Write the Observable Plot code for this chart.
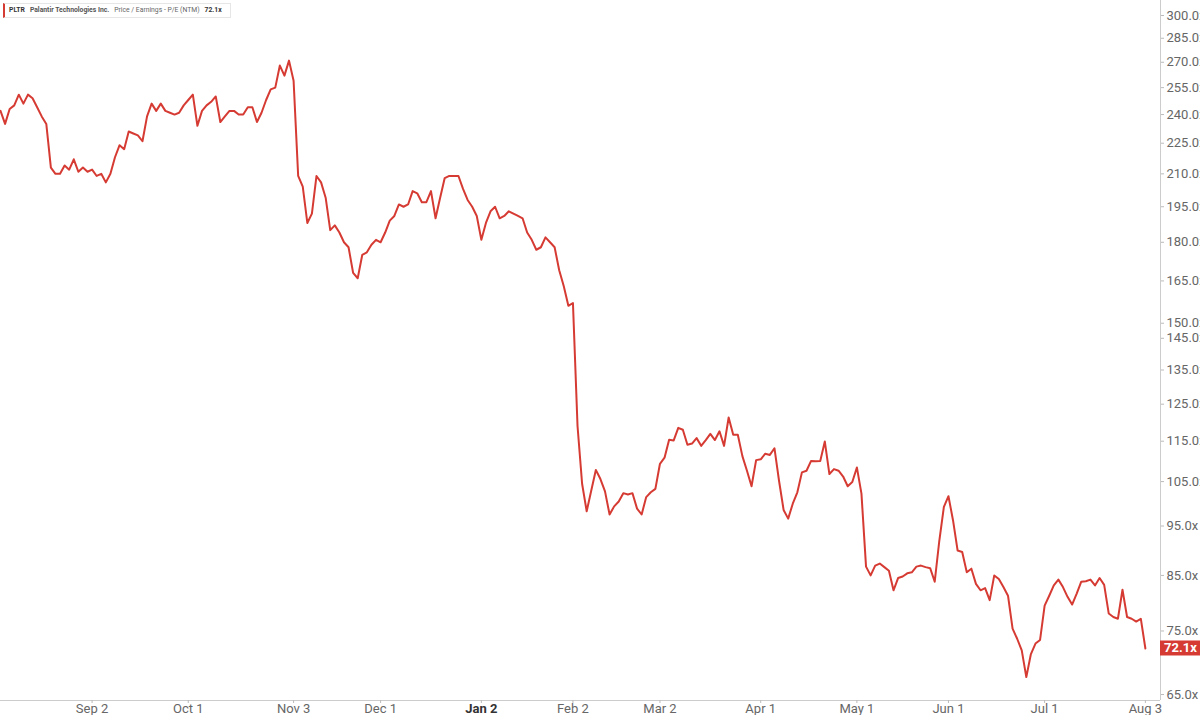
<!DOCTYPE html>
<html>
<head>
<meta charset="utf-8">
<!-- load d3 and plot -->
<script src="https://cdn.jsdelivr.net/npm/d3@7"></script>
<script src="https://cdn.jsdelivr.net/npm/@observablehq/plot@0.6"></script>
<style>
  body { margin: 0; background: #fff; overflow: hidden; }
  #wrap { position: relative; width: 1200px; height: 715px; overflow: hidden; }
  #legend {
    position: absolute; left: 3px; top: 3px; height: 13px; line-height: 13px;
    border: 1px solid #e6e6e6; border-left: 2px solid #d63b33; background: #fff;
    font-family: Roboto, sans-serif; font-size: 6.8px; color: #666; padding: 0 8px 0 4px;
    white-space: nowrap;
  }
  #legend b { color: #333; margin-right: 5px; }
  #legend span { margin-right: 5px; }
</style>
</head>
<body>
<div id="wrap">
  <div id="chart"></div>
  <div id="legend"><b>PLTR</b><b style="color:#555">Palantir Technologies Inc.</b><span>Price / Earnings - P/E (NTM)</span><b style="margin:0">72.1x</b></div>
</div>
<script>
  // P/E (NTM) per trading day, Aug 4 2025 .. Aug 3 2026
  const peValues = [
    242, 235, 243, 245, 251, 246, 251, 249, 244, 239,
    235, 213, 210, 210, 214, 212, 217, 211, 213, 211,
    212, 209, 210, 206, 210, 218, 224, 222, 231, 230,
    229, 226, 239, 246, 242, 246, 242, 241, 240, 241,
    245, 248, 251, 234, 242, 245, 247, 250, 236, 239,
    242, 242, 240, 240, 244, 244, 236, 241, 248, 254,
    255, 268, 262, 271, 259, 209, 204, 188, 192, 209,
    206, 199, 185, 187, 184, 180, 178, 168, 166, 175,
    176, 179, 181, 180, 184, 189, 191, 196, 195, 196,
    202, 201, 197, 197, 202, 190, 199, 208, 209, 209,
    209, 203, 198, 195, 191, 181, 188, 193, 195, 190,
    191, 193, 192, 191, 190, 184, 181, 177, 178, 182,
    180, 178, 169, 163, 156, 157, 119, 104.5, 98.2, 102.9,
    107.8, 105.6, 102.7, 97.5, 99.3, 100.4, 102.3, 102, 102.3, 98.8,
    97.5, 101.4, 102.5, 103.3, 109.3, 110.8, 115.4, 115.2, 118.5, 118,
    114.1, 114.4, 115.8, 113.8, 115.3, 116.9, 115.3, 117.6, 113.8, 121.3,
    116.7, 116.7, 111.2, 107.6, 103.9, 110.2, 110.4, 111.8, 111.5, 113.2,
    105.2, 98.5, 96.6, 99.9, 102.5, 107.2, 107.6, 110, 109.9, 110,
    114.9, 106.8, 108, 107.6, 106.2, 103.9, 104.9, 108.4, 102.2, 86.7,
    85, 86.9, 87.3, 86.6, 85.9, 82.2, 84.5, 84.8, 85.4, 85.6,
    86.7, 86.9, 86.6, 86.4, 83.8, 91.9, 99.2, 101.6, 96.2, 89.9,
    89.6, 85.6, 86.3, 83.4, 82.2, 82.6, 80.4, 85, 84.3, 82.8,
    81.2, 75.4, 73.7, 71.8, 67.6, 71.2, 72.9, 73.5, 79.4, 81.2,
    83.1, 84.2, 82.8, 81, 79.6, 81.6, 83.8, 83.9, 84.2, 83.1,
    84.5, 83.2, 78, 77.4, 77.1, 82.3, 77.4, 77.1, 76.6, 77.1,
    72.1
  ];

  // x axis: trading-day index of each labelled date
  const tickIndex = [20, 41, 64, 83, 105, 125, 144, 166, 187, 207, 228, 250];
  const tickLabels = ["Sep 2", "Oct 1", "Nov 3", "Dec 1", "Jan 2", "Feb 2", "Mar 2", "Apr 1", "May 1", "Jun 1", "Jul 1", "Aug 3"];

  // y axis ticks
  const yTicks = [65, 75, 85, 95, 105, 115, 125, 135, 145, 150, 165, 180, 195, 210, 225, 240, 255, 270, 285, 300];

  const lineColor = "#d63b33";
  const data = peValues.map((v, i) => ({i, v}));
  const xMax = 253.3;
  const yMin = 64.13;

  const chart = Plot.plot({
    width: 1200,
    height: 715,
    marginLeft: 0,
    marginRight: 40,
    marginTop: 0,
    marginBottom: 15,
    style: {fontFamily: "Roboto, sans-serif", fontSize: "13px", color: "#666", background: "#fff"},
    x: {domain: [0, xMax]},
    y: {type: "log", domain: [yMin, 310.3]},
    marks: [
      Plot.ruleY([yMin], {stroke: "#ccc"}),
      Plot.ruleX([xMax], {stroke: "#ccc"}),
      Plot.axisX({
        ticks: tickIndex,
        tickFormat: d => tickLabels[tickIndex.indexOf(d)],
        tickSize: 3,
        tickPadding: 0,
        stroke: "#bbb",
        fill: "#666",
        label: null
      }),
      Plot.axisY({
        anchor: "right",
        ticks: yTicks,
        tickFormat: d => d.toFixed(1) + "x",
        tickSize: 3,
        tickPadding: 3,
        stroke: "#bbb",
        fill: "#666",
        label: null
      }),
      Plot.line(data, {x: "i", y: "v", stroke: lineColor, strokeWidth: 2})
    ]
  });

  document.getElementById("chart").appendChild(chart);

  // bold the year label
  d3.select(chart).selectAll("text")
    .filter(function () { return this.textContent === "Jan 2"; })
    .attr("font-weight", "bold")
    .attr("fill", "#333");

  // current value badge on the right axis
  const last = peValues[peValues.length - 1];
  const yPos = chart.scale("y").apply(last);
  const xPos = chart.scale("x").apply(xMax);
  const svg = d3.select(chart);
  svg.append("rect")
    .attr("x", xPos).attr("y", yPos - 7.5)
    .attr("width", 40).attr("height", 15)
    .attr("fill", lineColor);
  svg.append("text")
    .attr("x", xPos + 4).attr("y", yPos + 4.5)
    .attr("text-anchor", "start")
    .attr("fill", "#fff")
    .attr("font-weight", "bold")
    .attr("font-size", 13)
    .text(last.toFixed(1) + "x");
</script>
</body>
</html>
